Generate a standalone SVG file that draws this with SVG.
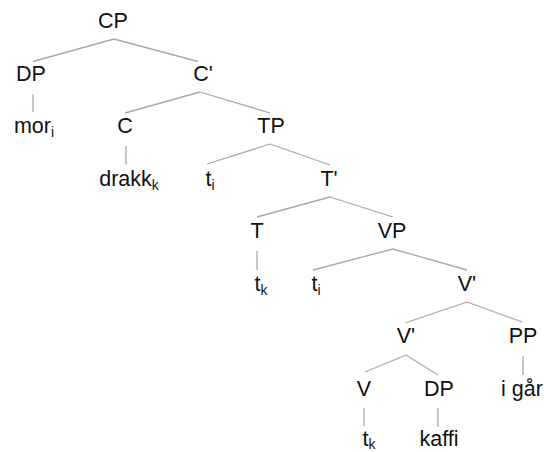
<svg xmlns="http://www.w3.org/2000/svg" width="544" height="452" viewBox="0 0 544 452">
<style>
text{font-family:"Liberation Sans",Arial,sans-serif;font-size:21.5px;fill:#111;text-anchor:middle}
.s{font-size:14px}
#edges line{stroke:#a8a8a8;stroke-width:1.3}
</style>
<rect width="544" height="452" fill="#fff"/>
<g id="edges">
<line x1="114" y1="39" x2="33" y2="61.5"/>
<line x1="114" y1="39" x2="198" y2="61.5"/>
<line x1="33" y1="94.5" x2="33" y2="112"/>
<line x1="200" y1="92" x2="125" y2="113"/>
<line x1="200" y1="92" x2="270" y2="113"/>
<line x1="126" y1="146" x2="126" y2="164.5"/>
<line x1="270" y1="144" x2="207" y2="164"/>
<line x1="270" y1="144" x2="330" y2="165"/>
<line x1="330" y1="197" x2="257" y2="217"/>
<line x1="330" y1="197" x2="393" y2="217"/>
<line x1="257" y1="251" x2="257" y2="270"/>
<line x1="393" y1="249" x2="313" y2="270"/>
<line x1="393" y1="249" x2="467" y2="270"/>
<line x1="467" y1="302" x2="405" y2="323"/>
<line x1="467" y1="302" x2="522" y2="322"/>
<line x1="406" y1="355" x2="365" y2="372"/>
<line x1="406" y1="355" x2="438" y2="375"/>
<line x1="523" y1="356" x2="523" y2="375"/>
<line x1="364" y1="408" x2="364" y2="426"/>
<line x1="438" y1="408" x2="438" y2="427"/>
</g>
<g id="CP"><text x="113" y="28">CP</text></g>
<g id="DP1"><text x="31" y="80.5">DP</text></g>
<g id="C1"><text x="203" y="80.5">C'</text></g>
<g id="mor"><text x="34" y="133">mor<tspan class="s" dy="4">i</tspan></text></g>
<g id="C"><text x="125" y="133">C</text></g>
<g id="TP"><text x="271" y="133">TP</text></g>
<g id="drakk"><text x="129" y="185.5">drakk<tspan class="s" dy="4">k</tspan></text></g>
<g id="ti1"><text x="210" y="185.5">t<tspan class="s" dy="4">i</tspan></text></g>
<g id="T1"><text x="329" y="185.5">T'</text></g>
<g id="T"><text x="257" y="238">T</text></g>
<g id="VP"><text x="392" y="238">VP</text></g>
<g id="tk1"><text x="261" y="290.5">t<tspan class="s" dy="4">k</tspan></text></g>
<g id="ti2"><text x="316" y="290.5">t<tspan class="s" dy="4">i</tspan></text></g>
<g id="V1a"><text x="467" y="290.5">V'</text></g>
<g id="V1b"><text x="406" y="343">V'</text></g>
<g id="PP"><text x="523" y="343">PP</text></g>
<g id="V"><text x="364" y="395.5">V</text></g>
<g id="DP2"><text x="439" y="395.5">DP</text></g>
<g id="igar"><text x="522" y="395.5">i går</text></g>
<g id="tk2"><text x="369" y="446">t<tspan class="s" dy="3">k</tspan></text></g>
<g id="kaffi"><text x="439" y="446">kaffi</text></g>
</svg>
